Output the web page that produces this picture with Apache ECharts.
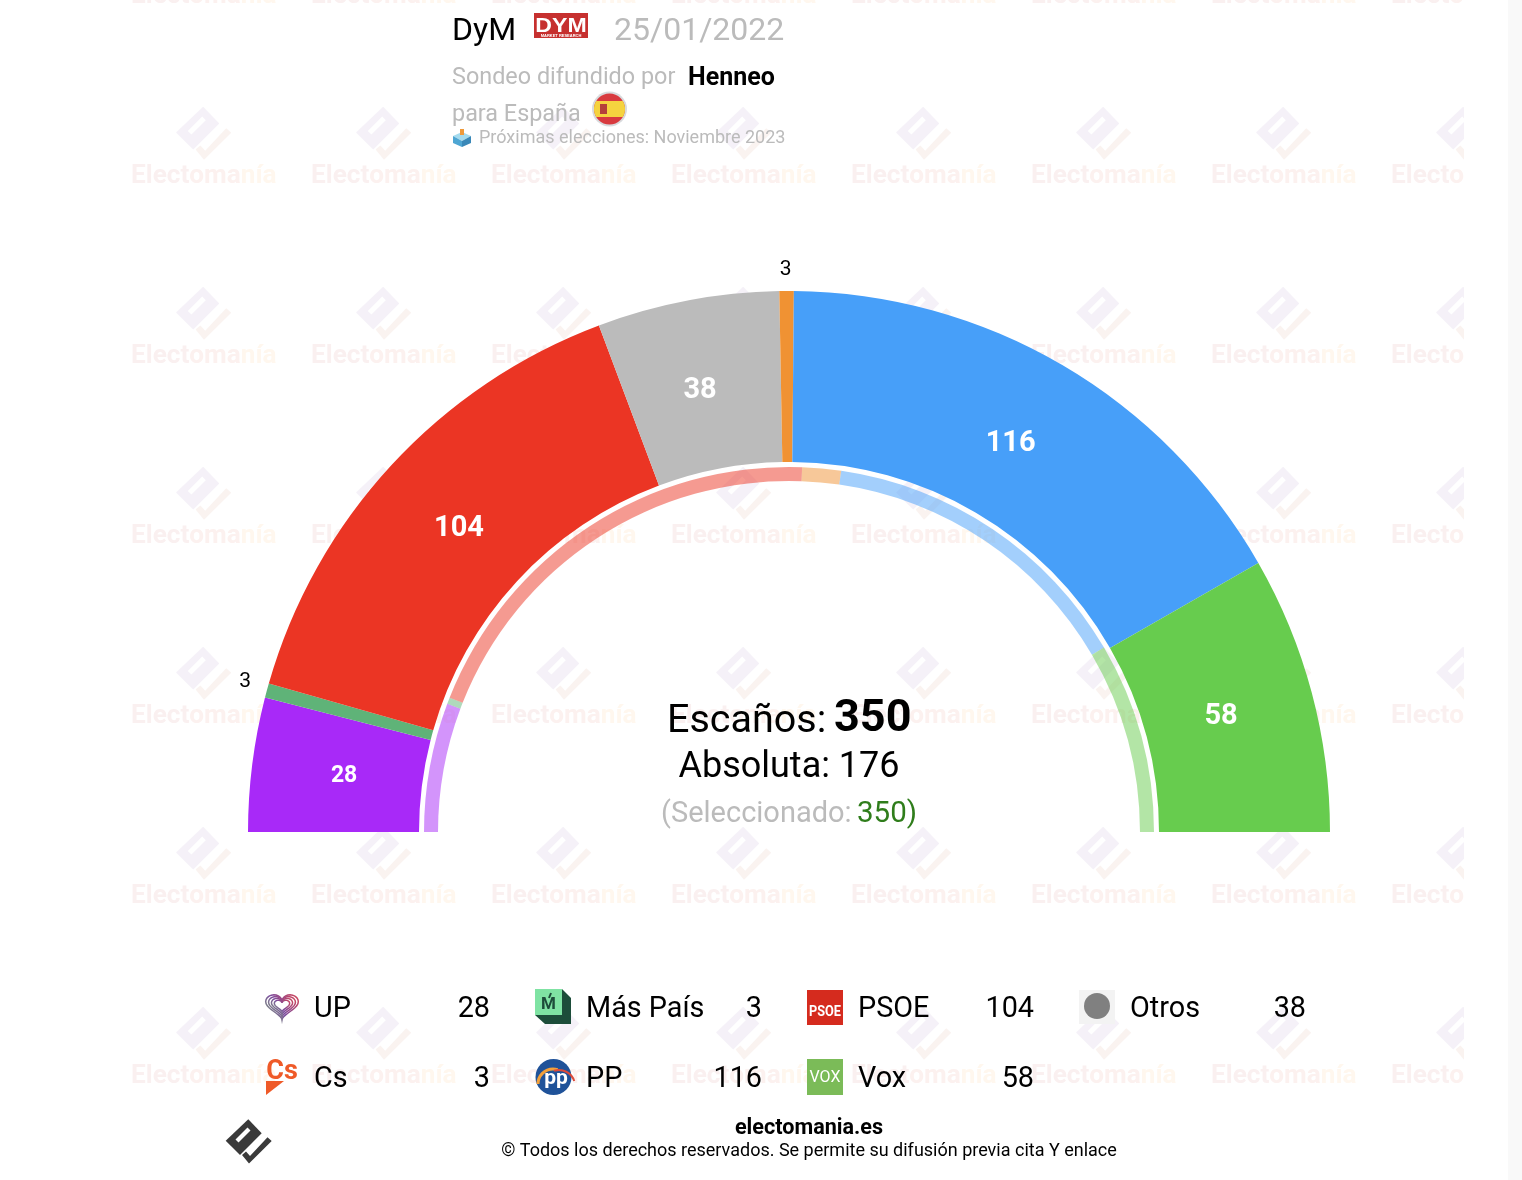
<!DOCTYPE html>
<html><head><meta charset="utf-8">
<style>html,body{margin:0;padding:0;background:#fff}#c{width:1522px;height:1180px}</style>
<script src="https://cdn.jsdelivr.net/npm/echarts@6/dist/echarts.min.js"></script>
</head><body><div id="c"></div>
<script>
const parties = ['UP','Más País','PSOE','Otros','Cs','PP','Vox'];
const seats = [28,3,104,38,3,116,58];
const partyColors = ['#a829f8','#5fb378','#eb3524','#bbbbbb','#f09233','#479ff9','#67cc4e'];
const prevParties = ['UP','Más País','PSOE','Cs','PP','Vox'];
const prevSeats = [40,2,137,12,100,59];
const prevColors = ['#a829f8','#5fb378','#eb3524','#f09233','#479ff9','#67cc4e'];
const labelSizes = [23,21,29,29,21,29,29];
const labelShift = [[10,2],[-10,-7],[7,8],[-3,9],[5,-15],[-10,7],[-11,3]];
const legendOrder = ['UP','Más País','PSOE','Otros','Cs','PP','Vox'];

const F = 'Roboto, sans-serif';
const els = [];
function add(e){els.push(e);return e;}
function txt(x,y,text,font,fill,align,z){add({type:'text',x,y:y+3,z:z==null?20:z,silent:true,style:{text,font:font+' '+F,fill,align:align||'left',verticalAlign:'middle'}});}
function logoPts(cx,cy,s,pts){return pts.map(p=>[cx+p[0]*s,cy+p[1]*s]);}
const DIAMOND=[[-0.7,-22.7],[12.7,-8.7],[-9,13],[-23.3,-1.3]];
const SLIT=[[-13.5,-2.5],[-10.5,0.5],[1.5,-11.5],[-1.5,-14.5]];
const CHECK=[[-7,13],[-3,9.5],[1,14],[18.5,-4.7],[22.7,-1],[0,21.5]];
function logo(cx,cy,s,c1,c2,z){
  add({type:'polygon',z,silent:true,shape:{points:logoPts(cx,cy,s,DIAMOND)},style:{fill:c1}});
  add({type:'polygon',z,silent:true,shape:{points:logoPts(cx,cy,s,SLIT)},style:{fill:'#fff'}});
  add({type:'polygon',z,silent:true,shape:{points:logoPts(cx,cy,s,CHECK)},style:{fill:c2}});
}
// watermark
for(let cx=204;cx<=1464;cx+=180){
  for(let ry=-46;ry<=1034;ry+=180){
    logo(cx,ry,1.2,'#f5f1f8','#faf3f0',-10);
    add({type:'text',x:cx-73,y:ry+42,z:-10,silent:true,style:{text:'{a|Elect}{b|oma}{c|nía}',font:'bold 26.2px '+F,align:'left',verticalAlign:'middle',
      rich:{a:{fill:'#faf0f0',font:'bold 26.2px '+F},b:{fill:'#fcf1ef',font:'bold 26.2px '+F},c:{fill:'#fff7ee',font:'bold 26.2px '+F}}}});
  }
}
add({type:'rect',z:-9,silent:true,shape:{x:1464,y:0,width:44,height:1180},style:{fill:'#fff'}});
add({type:'rect',z:-9,silent:true,shape:{x:1508,y:0,width:14,height:1180},style:{fill:'#f9f9f9'}});
// header
txt(452,29,'DyM','32px','#000');
add({type:'rect',z:20,silent:true,shape:{x:534,y:13,width:54,height:25},style:{fill:'#c6302f'}});
add({type:'text',z:21,silent:true,x:561,y:26,scaleX:1.1,style:{text:'DYM',font:'900 21px "Liberation Sans"',fill:'#fff',align:'center',verticalAlign:'middle'}});
add({type:'text',z:21,silent:true,x:561,y:35.5,style:{text:'MARKET RESEARCH',font:'bold 4px "Liberation Sans"',fill:'#fff',align:'center',verticalAlign:'middle'}});
txt(614,29,'25/01/2022','32px','#bbbbbb');
txt(452,75,'Sondeo difundido por','23.4px','#bbbbbb');
txt(688,76,'Henneo','bold 25px','#000');
txt(452,112,'para España','23.4px','#bbbbbb');
add({type:'circle',z:20,silent:true,shape:{cx:609.5,cy:109,r:17.5},style:{fill:'#d8dadd'}});
add({type:'circle',z:20,silent:true,shape:{cx:609.5,cy:109,r:15.5},style:{fill:'#d83a3f'}});
(function(){const pts=[];const R=15.5,h=8;const a0=Math.asin(h/R);
 for(let i=0;i<=10;i++){const a=-a0+2*a0*i/10;pts.push([609.5+R*Math.cos(a),109+R*Math.sin(a)]);}
 for(let i=0;i<=10;i++){const a=Math.PI-a0+2*a0*i/10;pts.push([609.5+R*Math.cos(a),109+R*Math.sin(a)]);}
 add({type:'polygon',z:21,silent:true,shape:{points:pts},style:{fill:'#f5d33f'}});})();
add({type:'rect',z:22,silent:true,shape:{x:600,y:104,width:7,height:10},style:{fill:'#b5403a'}});
// ballot
add({type:'polygon',z:20,silent:true,shape:{points:[[453,136],[462,132],[471,136],[462,141]]},style:{fill:'#a5dbee'}});
add({type:'polygon',z:20,silent:true,shape:{points:[[453,136],[462,141],[462,147],[453,143]]},style:{fill:'#4ea6d3'}});
add({type:'polygon',z:20,silent:true,shape:{points:[[471,136],[462,141],[462,147],[471,143]]},style:{fill:'#3a88b8'}});
add({type:'rect',z:21,silent:true,shape:{x:460,y:129,width:4,height:6},style:{fill:'#f09a3a'}});
txt(479,135,'Próximas elecciones: Noviembre 2023','18px','#bbbbbb');
// centre
txt(667,719,'Escaños:','39.5px','#000');
txt(834,717,'350','bold 45px','#000');
txt(789,765,'Absoluta: 176','36px','#000','center');
txt(661,812,'(Seleccionado:','29px','#bbbbbb');
txt(857,812,'350)','29.5px','#2f7d1b');
// legend
const colX=[[314,490],[586,762],[858,1034],[1130,1306]];
const rowsY=[1007,1077];
legendOrder.forEach((n,i)=>{
  const c=colX[i%4],y=rowsY[i<4?0:1];
  txt(c[0],y,n,'28.8px','#000');
  txt(c[1],y,String(seats[parties.indexOf(n)]),'28.8px','#000','right');
});
// party logos
function heart(cx,cy,s){const p=[];for(let i=0;i<=48;i++){const t=i/48*2*Math.PI;
  p.push([cx+s*16*Math.pow(Math.sin(t),3),cy-s*0.84*(13*Math.cos(t)-5*Math.cos(2*t)-2*Math.cos(3*t)-Math.cos(4*t))]);}return p;}
const hg={type:'linear',x:0,y:1,x2:1,y2:0,colorStops:[{offset:0,color:'#7fc56c'},{offset:0.45,color:'#7b4c9e'},{offset:1,color:'#e0454f'}]};
[1.02,0.84,0.66,0.48].forEach(s=>add({type:'polyline',z:20,silent:true,shape:{points:heart(282,1005,s)},style:{stroke:hg,lineWidth:1.5,fill:null}}));
add({type:'polygon',z:20,silent:true,shape:{points:[[535,989],[562,989],[571,998],[571,1024],[545,1024],[535,1015]]},style:{fill:'#1d4d3a'}});
add({type:'rect',z:21,silent:true,shape:{x:535,y:989,width:27,height:26},style:{fill:'#7fe3a3'}});
add({type:'text',z:22,silent:true,x:548.5,y:1005,style:{text:'M',font:'bold 17px '+F,fill:'#1d4d3a',align:'center',verticalAlign:'middle'}});
add({type:'line',z:22,silent:true,shape:{x1:549,y1:998,x2:551,y2:993},style:{stroke:'#1d4d3a',lineWidth:2}});
add({type:'rect',z:20,silent:true,shape:{x:807,y:990,width:36,height:35},style:{fill:'#d52b1e'}});
add({type:'text',z:21,silent:true,x:825,y:1012,scaleX:0.85,style:{text:'PSOE',font:'bold 15px '+F,fill:'#fff',align:'center',verticalAlign:'middle'}});
add({type:'rect',z:20,silent:true,shape:{x:1079,y:990,width:36,height:34},style:{fill:'#f3f3f3'}});
add({type:'circle',z:21,silent:true,shape:{cx:1097,cy:1006,r:13},style:{fill:'#808080'}});
add({type:'text',z:20,silent:true,x:282,y:1072,style:{text:'Cs',font:'bold 27px '+F,fill:'#ef5a28',align:'center',verticalAlign:'middle'}});
add({type:'polygon',z:20,silent:true,shape:{points:[[266,1081],[284,1081],[266,1095]]},style:{fill:'#ef5a28'}});
add({type:'circle',z:20,silent:true,shape:{cx:553.5,cy:1077,r:18},style:{fill:'#1f5299'}});
add({type:'arc',z:21,silent:true,shape:{cx:553,cy:1084,r:15,startAngle:Math.PI,endAngle:Math.PI*1.6},style:{stroke:'#f2a03a',lineWidth:3,fill:null}});
add({type:'arc',z:21,silent:true,shape:{cx:559,cy:1086,r:16,startAngle:Math.PI*1.4,endAngle:Math.PI*1.9},style:{stroke:'#dd4a3a',lineWidth:2,fill:null}});
add({type:'text',z:22,silent:true,x:556,y:1079,style:{text:'pp',font:'bold 21px '+F,fill:'#fff',align:'center',verticalAlign:'middle'}});
add({type:'rect',z:20,silent:true,shape:{x:807,y:1059,width:36,height:36},style:{fill:'#7bbb58'}});
add({type:'text',z:21,silent:true,x:825,y:1078,style:{text:'VOX',font:'16px '+F,fill:'#fff',align:'center',verticalAlign:'middle'}});
// footer
logo(249,1142,1,'#3a3a3a','#3a3a3a',20);
txt(809,1126,'electomania.es','bold 21.6px','#000','center');
txt(809,1148,'© Todos los derechos reservados. Se permite su difusión previa cita Y enlace','18px','#000','center');

const mainData = parties.map((n,i)=>{
  const small = seats[i] < 10;
  return {name:n,value:seats[i],itemStyle:{color:partyColors[i]},
    label: small ? {show:true,position:'outside',color:'#000',fontSize:labelSizes[i],fontWeight:'normal',distanceToLabelLine:0}
                 : {show:true,position:'inside',color:'#fff',fontSize:labelSizes[i],fontWeight:'bold'},
    labelLine:{show:false,length:6,length2:0}};
});
const ringData = prevParties.map((n,i)=>({name:n,value:prevSeats[i],itemStyle:{color:prevColors[i],opacity:0.5},label:{show:false},labelLine:{show:false}}));

const chart = echarts.init(document.getElementById('c'),null,{renderer:'canvas'});
chart.setOption({
  animation:false,
  backgroundColor:'#fff',
  textStyle:{fontFamily:F},
  graphic:{elements:els},
  series:[
    {type:'pie',z:2,silent:true,center:[789,832],radius:[370,541],startAngle:180,endAngle:360,avoidLabelOverlap:false,
     labelLayout:p=>({dx:labelShift[p.dataIndex][0],dy:labelShift[p.dataIndex][1]}),
     label:{formatter:'{c}',fontFamily:F},data:mainData},
    {type:'pie',z:2,silent:true,center:[789,832],radius:[351,365],startAngle:180,endAngle:360,avoidLabelOverlap:false,data:ringData}
  ]
});
</script></body></html>
